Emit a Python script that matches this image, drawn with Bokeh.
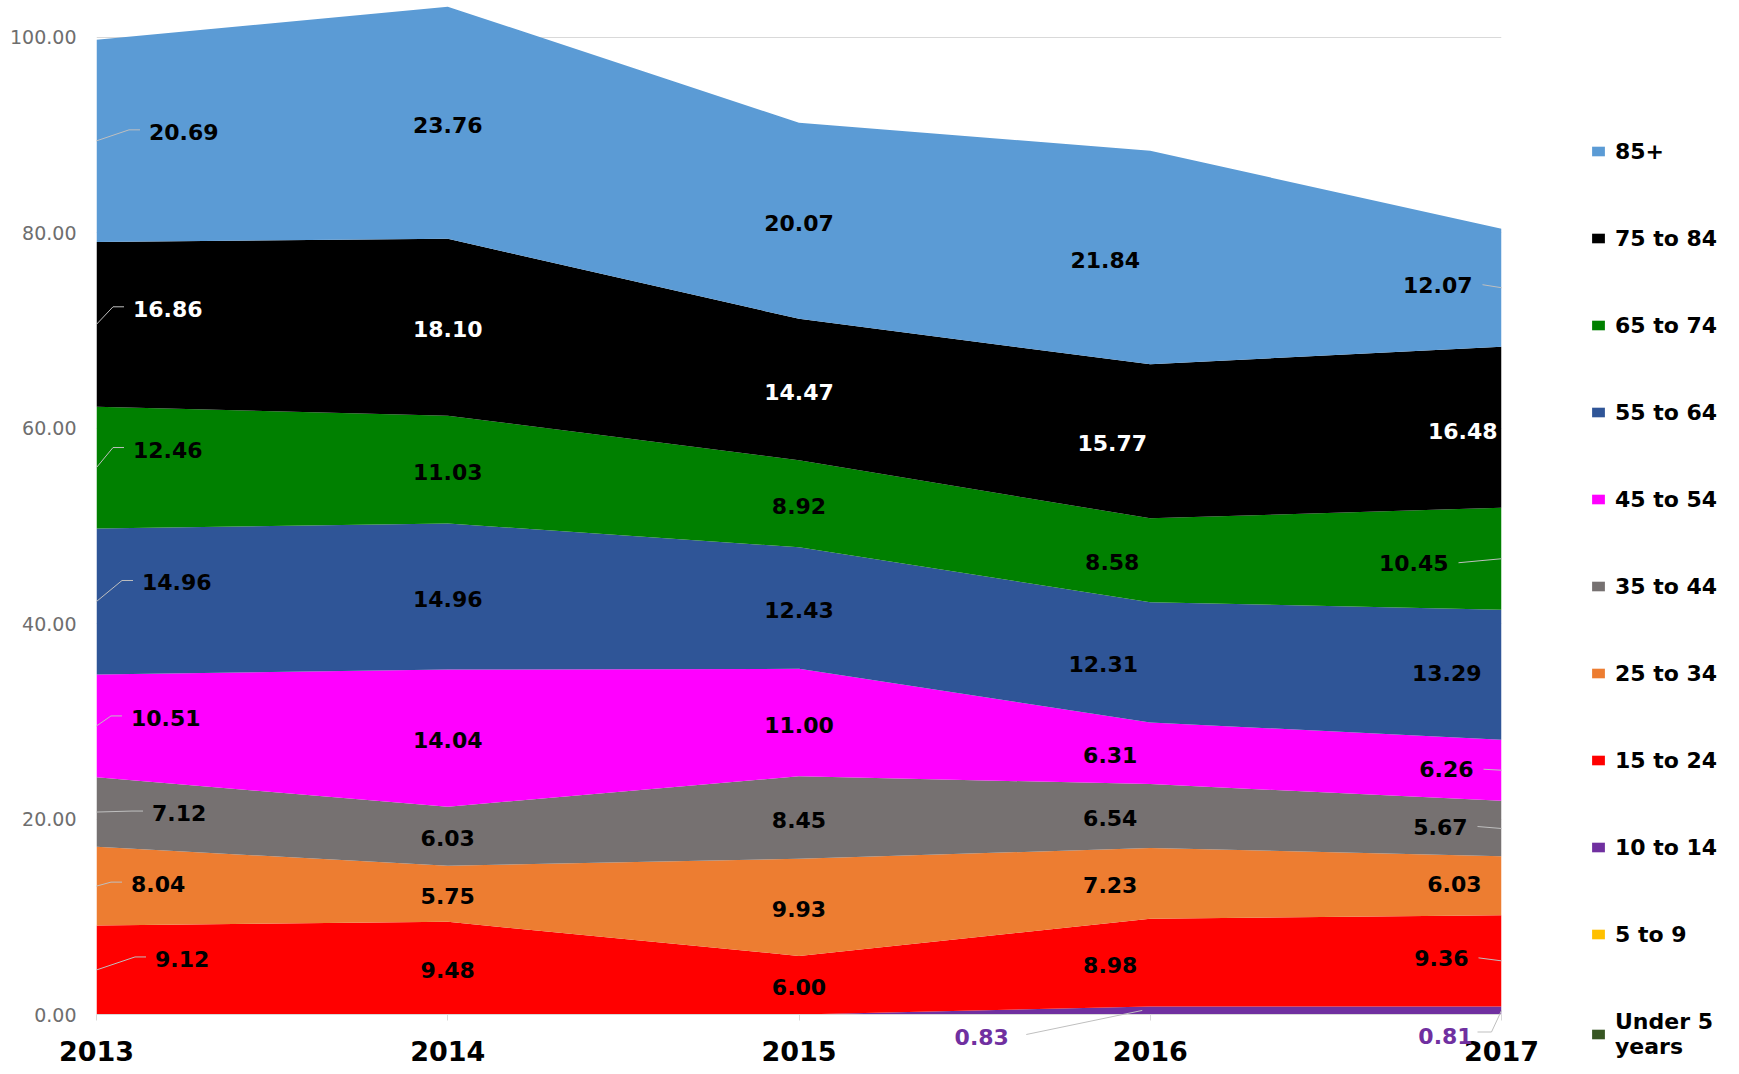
import numpy as np
from bokeh.plotting import figure
from bokeh.models import (ColumnDataSource, Legend, LegendItem, FixedTicker,
                          NumeralTickFormatter, Range1d)
from bokeh.embed import file_html
from bokeh.resources import INLINE
from bokeh.core.properties import value

# ---------------- data ----------------
years = [2013, 2014, 2015, 2016, 2017]
series_names = ["Under 5 years", "5 to 9", "10 to 14", "15 to 24", "25 to 34", "35 to 44",
                "45 to 54", "55 to 64", "65 to 74", "75 to 84", "85+"]
under_5 = [0, 0, 0, 0, 0]
age_5_9 = [0, 0, 0, 0, 0]
age_10_14 = [0, 0, 0, 0.83, 0.81]
age_15_24 = [9.12, 9.48, 6.00, 8.98, 9.36]
age_25_34 = [8.04, 5.75, 9.93, 7.23, 6.03]
age_35_44 = [7.12, 6.03, 8.45, 6.54, 5.67]
age_45_54 = [10.51, 14.04, 11.00, 6.31, 6.26]
age_55_64 = [14.96, 14.96, 12.43, 12.31, 13.29]
age_65_74 = [12.46, 11.03, 8.92, 8.58, 10.45]
age_75_84 = [16.86, 18.10, 14.47, 15.77, 16.48]
age_85_plus = [20.69, 23.76, 20.07, 21.84, 12.07]
y_ticks = [0, 20, 40, 60, 80, 100]

colors = ["#375623", "#FFC000", "#7030A0", "#FF0000", "#ED7D31", "#767171",
          "#FF00FF", "#2F5597", "#008000", "#000000", "#5B9BD5"]

# ---------------- style / placement ----------------
FONT = "DejaVu Sans"
FW, FH = 1405, 1014
YMAX = 103.78
XS = FW / 4.0
YS = FH / YMAX
LEADER = "#BFBFBF"

# label pixel offsets for series 15-24 ... 85+
dx_first = [58.5, 34.5, 55.5, 34.5, 45.5, 36.5, 36.5, 52.5]
dy_first = [-11, -2, 1, -8, -19, -18, -15.5, -9]
dx_mid16 = [-40, -40, -40, -40, -47, -38, -38, -45]
dx_last = [-33, -20, -34, -28, -20, -53, -4, -29]
dy_last = [-3, -2, -2, -1, -2, 4, 4, -3]
lead_last = [True, False, True, True, False, True, False, True]

vals = np.array([under_5, age_5_9, age_10_14, age_15_24, age_25_34, age_35_44,
                 age_45_54, age_55_64, age_65_74, age_75_84, age_85_plus], dtype=float)
cum = np.cumsum(vals, axis=0)
mids = cum - vals / 2.0

keys = ["s%d" % i for i in range(len(series_names))]
data = {"year": years}
for k, row in zip(keys, vals):
    data[k] = list(row)
source = ColumnDataSource(data)

p = figure(frame_width=FW, frame_height=FH, x_range=Range1d(years[0], years[-1]),
           y_range=Range1d(0, YMAX), output_backend="svg", toolbar_location=None,
           min_border_left=96, min_border_right=234, min_border_top=0, min_border_bottom=58)
p.outline_line_color = None
p.background_fill_color = "white"

renderers = p.varea_stack(stackers=keys, x="year", color=colors, source=source)

# axes
p.xgrid.visible = False
p.ygrid.grid_line_color = "#D9D9D9"
p.yaxis.ticker = FixedTicker(ticks=y_ticks)
p.yaxis.formatter = NumeralTickFormatter(format="0.00")
p.yaxis.axis_line_color = None
p.yaxis.major_tick_line_color = None
p.yaxis.minor_tick_line_color = None
p.yaxis.major_tick_out = 0
p.yaxis.major_tick_in = 0
p.yaxis.major_label_standoff = 20
p.yaxis.major_label_text_font = FONT
p.yaxis.major_label_text_font_size = "19px"
p.yaxis.major_label_text_color = "#6E6E6E"

p.xaxis.ticker = FixedTicker(ticks=years)
p.xaxis.axis_line_color = "#D9D9D9"
p.xaxis.major_tick_line_color = "#D9D9D9"
p.xaxis.minor_tick_line_color = None
p.xaxis.major_tick_out = 6
p.xaxis.major_tick_in = 0
p.xaxis.major_label_standoff = 20
p.xaxis.major_label_text_font = FONT
p.xaxis.major_label_text_font_style = "bold"
p.xaxis.major_label_text_font_size = "27px"
p.xaxis.major_label_text_color = "#000000"

# data labels
groups = {"left": [], "center": [], "right": []}
lead_xs, lead_ys = [], []
for yi, yr in enumerate(years):
    for j, si in enumerate(range(3, 11)):
        v = vals[si][yi]
        m = mids[si][yi]
        col = "#FFFFFF" if si == 9 else "#000000"
        if yi == 0:
            dx, dy = dx_first[j], dy_first[j]
            groups["left"].append((yr, m, "%.2f" % v, dx, dy, col))
            pts = [(0, 0), (dx - 20, dy - 2), (dx - 9, dy - 2)]
            lead_xs.append([yr + a / XS for a, b in pts])
            lead_ys.append([m - b / YS for a, b in pts])
        elif yi == len(years) - 1:
            dx, dy = dx_last[j], dy_last[j]
            groups["right"].append((yr, m, "%.2f" % v, dx, dy, col))
            if lead_last[j]:
                pts = [(dx + 10, dy), (0, 0)]
                lead_xs.append([yr + a / XS for a, b in pts])
                lead_ys.append([m - b / YS for a, b in pts])
        else:
            dx = dx_mid16[j] if yr == 2016 else 0
            groups["center"].append((yr, m, "%.2f" % v, dx, 2, col))

# leaders for the 10-14 labels (below the axis)
i16, i17 = years.index(2016), years.index(2017)
lead_xs.append([2016 - 124 / XS, 2016 - 8 / XS])
lead_ys.append([-20 / YS, mids[2][i16]])
lead_xs.append([2017 - 24 / XS, 2017 - 10 / XS, 2017])
lead_ys.append([-17.5 / YS, -17.5 / YS, mids[2][i17]])
p.multi_line(lead_xs, lead_ys, line_color=LEADER, line_width=1, level="overlay")

for align, rows in groups.items():
    src = ColumnDataSource(dict(x=[r[0] for r in rows], y=[r[1] for r in rows],
                                text=[r[2] for r in rows], dx=[r[3] for r in rows],
                                dy=[r[4] for r in rows], color=[r[5] for r in rows]))
    p.text(x="x", y="y", text="text", x_offset="dx", y_offset="dy", text_color="color",
           text_align=align, text_baseline="middle", text_font=value(FONT),
           text_font_style="bold", text_font_size="22px", source=src)

purple = colors[2]
bsrc = ColumnDataSource(dict(x=[2016, 2017], y=[0, 0],
                             text=["%.2f" % age_10_14[i16], "%.2f" % age_10_14[i17]],
                             dx=[-168.5, -56], dy=[22.3, 21.5]))
p.text(x="x", y="y", text="text", x_offset="dx", y_offset="dy", text_color=purple,
       text_align="center", text_baseline="middle", text_font=value(FONT),
       text_font_style="bold", text_font_size="22px", source=bsrc, level="overlay")

# legend (top item = 85+)
legend_names = list(series_names)
legend_names[0] = "Under 5\nyears"
items = [LegendItem(label=legend_names[i], renderers=[renderers[i]])
         for i in range(len(series_names) - 1, -1, -1)]
legend = Legend(items=items, location=(89, -44.5), orientation="vertical",
                glyph_width=16, glyph_height=12, label_standoff=9, spacing=62,
                label_height=25, padding=0, margin=60, border_line_alpha=0,
                background_fill_alpha=0, label_text_font=FONT,
                label_text_font_style="bold", label_text_font_size="22px",
                label_text_color="#000000")
p.add_layout(legend, "right")

open("out.html", "w").write(file_html(p, INLINE))
